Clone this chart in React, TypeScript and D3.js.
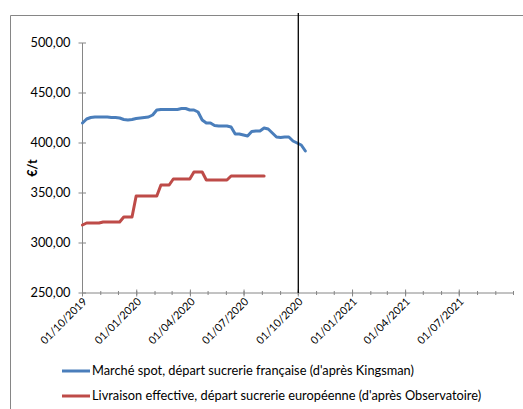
import React from "react";
import * as d3 from "d3";

const W = 523;
const H = 409;

const seriesStart = "2019-10-01";
const spotValues = [
  420, 424, 425.5, 426, 426, 426, 426, 425.5, 425.5, 425, 423.5, 423, 423.5, 424.5,
  425, 425.5, 426, 428, 433, 433.5, 433.5, 433.5, 433.5, 433.5, 434.5, 434.5, 433, 433,
  431, 423, 420, 420, 417.5, 417, 417, 417, 416, 409, 409, 408, 407, 411.5, 412, 412,
  415, 414, 410, 406, 405.5, 406, 406, 402, 400, 398, 392,
];
const deliveryValues = [
  318, 320, 320, 320, 320, 321, 321, 321, 321, 321, 326, 326, 326, 347, 347, 347, 347,
  347, 347, 358, 358, 358, 364, 364, 364, 364, 364, 371, 371, 371, 363, 363, 363, 363,
  363, 363, 367, 367, 367, 367, 367, 367, 367, 367, 367,
];
const yTicks = [250, 300, 350, 400, 450, 500];
const xTickDates = [
  "2019-10-01", "2020-01-01", "2020-04-01", "2020-07-01",
  "2020-10-01", "2021-01-01", "2021-04-01", "2021-07-01",
];
const xDomain = ["2019-10-01", "2021-10-01"];
const markerDate = "2020-10-01";
const seriesNames = [
  "Marché spot, départ sucrerie française (d'après Kingsman)",
  "Livraison effective, départ sucrerie européenne (d'après Observatoire)",
];
const seriesColors = ["#4a7ebb", "#be4b48"];
const yLabel = "€/t";

const parse = (s: string) => new Date(s + "T00:00:00Z");
const fmtDate = d3.utcFormat("%d/%m/%Y");
const fmtY = (v: number) => v.toFixed(2).replace(".", ",");

export default function App() {
  const x = d3.scaleUtc().domain(xDomain.map(parse)).range([82.5, 513.5]);
  const y = d3.scaleLinear().domain([250, 500]).range([293, 43]);
  const start = parse(seriesStart);
  const toPts = (vals: number[]) =>
    vals.map((v, i) => [d3.utcWeek.offset(start, i), v] as [Date, number]);
  const line = d3
    .line<[Date, number]>()
    .x((d) => x(d[0]))
    .y((d) => y(d[1]))
    .curve(d3.curveLinear);
  const minor = d3.utcMonth.range(parse(xDomain[0]), d3.utcDay.offset(parse(xDomain[1]), 1));
  const font = "Lato, 'Open Sans', sans-serif";
  const axisColor = "#868686";
  const series = [spotValues, deliveryValues];

  return (
    <svg
      width={W}
      height={H}
      style={{ position: "absolute", left: 0, top: 0, background: "#fff" }}
      fontFamily={font}
    >
      <rect x={0} y={0} width={W} height={H} fill="#fff" />
      {/* chart frame */}
      <line x1={10.5} y1={15.5} x2={W} y2={15.5} stroke={axisColor} strokeWidth={1} />
      <line x1={10.5} y1={15.5} x2={10.5} y2={H} stroke={axisColor} strokeWidth={1} />

      {/* y axis */}
      <line x1={x.range()[0]} y1={y(500)} x2={x.range()[0]} y2={y(250)} stroke={axisColor} />
      {yTicks.map((t) => (
        <g key={t}>
          <line x1={78.5} x2={86} y1={y(t)} y2={y(t)} stroke={axisColor} />
          <text x={70.5} y={y(t)} dy="0.35em" textAnchor="end" fontSize={12.8} fill="#000">
            {fmtY(t)}
          </text>
        </g>
      ))}
      <text
        transform={`translate(37,168) rotate(-90)`}
        textAnchor="middle"
        fontSize={12.5}
        fontWeight="bold"
        fill="#000"
      >
        {yLabel}
      </text>

      {/* x axis */}
      <line x1={x.range()[0]} y1={y(250)} x2={x.range()[1]} y2={y(250)} stroke={axisColor} />
      {minor.map((d, i) => (
        <line key={i} x1={x(d)} x2={x(d)} y1={y(250) - 2} y2={y(250) + 2} stroke={axisColor} />
      ))}
      {xTickDates.map((s) => {
        const d = parse(s);
        return (
          <g key={s}>
            <line x1={x(d)} x2={x(d)} y1={y(250) - 3.5} y2={y(250) + 3.5} stroke={axisColor} />
            <text
              transform={`translate(${x(d) + 2.5},${y(250) + 6.5}) rotate(-45)`}
              textAnchor="end"
              dy="0.35em"
              fontSize={10.9}
              fill="#000"
            >
              {fmtDate(d)}
            </text>
          </g>
        );
      })}

      {/* series */}
      {series.map((vals, i) => (
        <path
          key={i}
          d={line(toPts(vals)) || ""}
          fill="none"
          stroke={seriesColors[i]}
          strokeWidth={3}
          strokeLinejoin="round"
          strokeLinecap="round"
        />
      ))}

      {/* marker line */}
      <line
        x1={x(parse(markerDate))}
        x2={x(parse(markerDate))}
        y1={13}
        y2={y(250)}
        stroke="#000"
        strokeWidth={1.3}
      />

      {/* legend */}
      {seriesNames.map((n, i) => (
        <g key={n}>
          <line x1={62} x2={90} y1={371 + i * 25} y2={371 + i * 25} stroke={seriesColors[i]} strokeWidth={3} />
          <text x={92} y={371 + i * 25} dy="0.35em" fontSize={12.8} fill="#000">
            {n}
          </text>
        </g>
      ))}
    </svg>
  );
}
